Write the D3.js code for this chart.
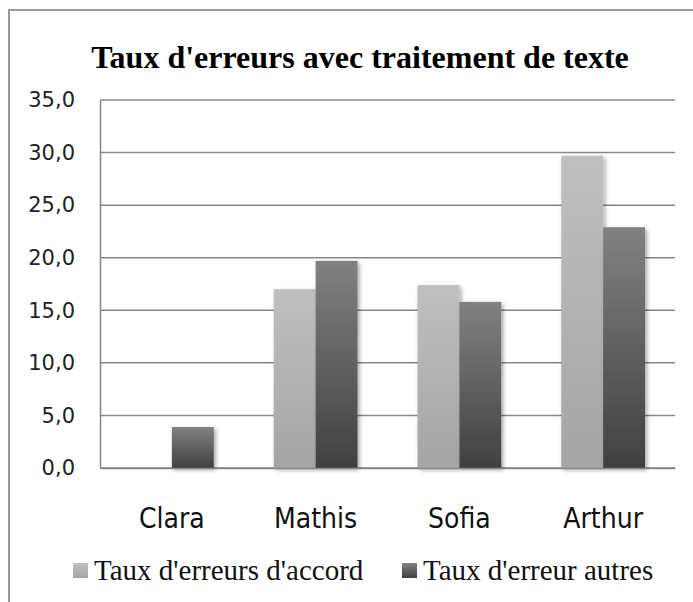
<!DOCTYPE html>
<html>
<head>
<meta charset="utf-8">
<script src="https://cdn.jsdelivr.net/npm/d3@7"></script>
<style>
  body { margin: 0; background: #fff; }
</style>
</head>
<body>
<script>
// chart data
const students = ["Clara", "Mathis", "Sofia", "Arthur"];
const seriesNames = ["Taux d'erreurs d'accord", "Taux d'erreur autres"];
const accordErrors = [0, 17.0, 17.4, 29.7];
const otherErrors = [3.9, 19.7, 15.8, 22.9];
const yTicks = [0, 5, 10, 15, 20, 25, 30, 35];

const W = 693, H = 602;
const margin = { top: 100, right: 18, bottom: 134, left: 100 };
const width = W - margin.left - margin.right,
    height = H - margin.top - margin.bottom;

const svg = d3.select("body").append("svg")
    .attr("width", W)
    .attr("height", H);

// gradients + shadow
const defs = svg.append("defs");
const grads = [["g0", "#c0c0c0", "#a5a5a5"], ["g1", "#818181", "#404040"]];
grads.forEach(function (g) {
    const lg = defs.append("linearGradient").attr("id", g[0])
        .attr("x1", 0).attr("y1", 0).attr("x2", 0).attr("y2", 1);
    lg.append("stop").attr("offset", "0%").attr("stop-color", g[1]);
    lg.append("stop").attr("offset", "100%").attr("stop-color", g[2]);
});
defs.append("filter").attr("id", "shadow")
    .attr("x", "-20%").attr("y", "-5%").attr("width", "150%").attr("height", "120%")
    .append("feDropShadow")
    .attr("dx", 2).attr("dy", 2).attr("stdDeviation", 2)
    .attr("flood-color", "#000").attr("flood-opacity", 0.35);

// outer frame (right and bottom edges fall outside the picture)
svg.append("rect")
    .attr("x", 9).attr("y", 10)
    .attr("width", W + 20).attr("height", H + 20)
    .attr("fill", "none")
    .attr("stroke", "#999")
    .attr("stroke-width", 2);

svg.append("text")
    .attr("x", 360).attr("y", 68)
    .attr("text-anchor", "middle")
    .style("font-family", "'Liberation Serif', 'Times New Roman', serif")
    .style("font-weight", "bold")
    .style("font-size", "32px")
    .text("Taux d'erreurs avec traitement de texte");

const g = svg.append("g")
    .attr("transform", "translate(" + margin.left + "," + margin.top + ")");

const x0 = d3.scaleBand().domain(students).range([0, width]).paddingInner(0).paddingOuter(0);
const x1 = d3.scaleBand().domain([0, 1]).range([30, x0.bandwidth() - 30]);
const y = d3.scaleLinear().domain([0, 35]).range([height, 0]);

const fr = d3.formatLocale({ decimal: ",", thousands: " ", grouping: [3], currency: ["", " €"] });

// gridlines
g.append("g")
    .selectAll("line")
    .data(yTicks)
    .enter().append("line")
    .attr("x1", 0).attr("x2", width)
    .attr("y1", function (d) { return y(d); })
    .attr("y2", function (d) { return y(d); })
    .attr("stroke", "#868686")
    .attr("stroke-width", 1.5);

// y axis
const yAxis = g.append("g")
    .call(d3.axisLeft(y).tickValues(yTicks).tickFormat(fr.format(".1f")).tickSize(0).tickPadding(25));
yAxis.select(".domain").attr("stroke", "#868686").attr("stroke-width", 1.5);
yAxis.selectAll("text")
    .style("font-family", "'DejaVu Sans', sans-serif")
    .style("font-size", "21px")
    .attr("fill", "#222");

// bars
const rows = students.map(function (s, i) { return { name: s, vals: [accordErrors[i], otherErrors[i]] }; });
const groups = g.selectAll(".grp")
    .data(rows)
    .enter().append("g")
    .attr("transform", function (d) { return "translate(" + x0(d.name) + ",0)"; });

groups.selectAll("rect")
    .data(function (d) { return d.vals.map(function (v, k) { return { k: k, v: v }; }); })
    .enter().append("rect")
    .filter(function (d) { return d.v > 0; })
    .attr("x", function (d) { return x1(d.k); })
    .attr("y", function (d) { return y(d.v); })
    .attr("width", x1.bandwidth())
    .attr("height", function (d) { return height - y(d.v); })
    .attr("fill", function (d) { return "url(#g" + d.k + ")"; })
    .attr("filter", "url(#shadow)");

// x axis baseline and labels
const xAxis = g.append("g")
    .attr("transform", "translate(0," + height + ")")
    .call(d3.axisBottom(x0).tickSize(0).tickPadding(40));
xAxis.select(".domain").attr("stroke", "#868686").attr("stroke-width", 1.5);
xAxis.selectAll("text")
    .style("font-family", "'Liberation Sans Narrow', 'DejaVu Sans Condensed', sans-serif")
    .style("font-size", "28px")
    .attr("fill", "#111");

// legend
const legendX = [73, 402];
const leg = svg.append("g").selectAll("g")
    .data(seriesNames)
    .enter().append("g")
    .attr("transform", function (d, i) { return "translate(" + legendX[i] + ",563)"; });
leg.append("rect")
    .attr("width", 15).attr("height", 15)
    .attr("fill", function (d, i) { return "url(#g" + i + ")"; });
leg.append("text")
    .attr("x", 21).attr("y", 17)
    .style("font-family", "'Liberation Serif', 'Times New Roman', serif")
    .style("font-size", "29px")
    .attr("fill", "#111")
    .text(function (d) { return d; });
</script>
</body>
</html>
